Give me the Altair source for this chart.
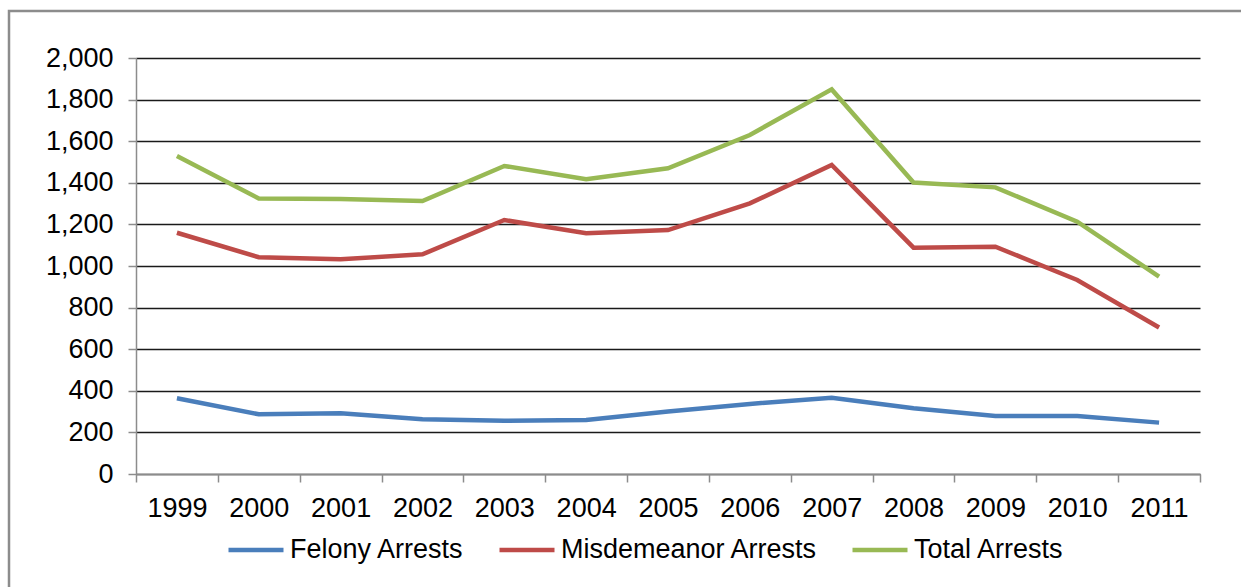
import altair as alt
import pandas as pd

years = ["1999", "2000", "2001", "2002", "2003", "2004", "2005", "2006", "2007", "2008", "2009", "2010", "2011"]
felony = [364, 287, 292, 263, 256, 260, 300, 337, 367, 316, 279, 279, 247]
misdemeanor = [1160, 1042, 1032, 1056, 1221, 1157, 1173, 1301, 1486, 1088, 1093, 933, 704]
total = [1529, 1325, 1322, 1312, 1481, 1417, 1470, 1630, 1849, 1401, 1378, 1213, 949]
series_names = ["Felony Arrests", "Misdemeanor Arrests", "Total Arrests"]
series_colors = ["#4A7EBB", "#BE4B48", "#98B954"]
y_ticks = [0, 200, 400, 600, 800, 1000, 1200, 1400, 1600, 1800, 2000]

rows = []
for name, vals in zip(series_names, [felony, misdemeanor, total]):
    for yr, v in zip(years, vals):
        rows.append({"Year": yr, "Series": name, "Value": v})
df = pd.DataFrame(rows)

FONT = "Liberation Sans"

lines = alt.Chart(df).mark_line(strokeWidth=4.5, strokeJoin="miter").encode(
    x=alt.X("Year:N", sort=years, bandPosition=0.5,
            scale=alt.Scale(type="band", domain=years, paddingInner=0, paddingOuter=0),
            axis=alt.Axis(title=None, labelAngle=0, tickBand="extent", grid=False,
                          labelFont=FONT, labelFontSize=27, labelColor="#000000",
                          labelPadding=13, tickSize=8, tickColor="#8C8C8C", tickWidth=1.5,
                          domainColor="#8C8C8C", domainWidth=1.5)),
    y=alt.Y("Value:Q", scale=alt.Scale(domain=[0, 2000], nice=False),
            axis=alt.Axis(title=None, values=y_ticks, format=",d",
                          labelFont=FONT, labelFontSize=27, labelColor="#000000",
                          labelPadding=15, tickSize=8, tickColor="#8C8C8C", tickWidth=1.5,
                          domainColor="#8C8C8C", domainWidth=1.5,
                          grid=True, gridColor="#1A1A1A", gridWidth=1.3)),
    color=alt.Color("Series:N", sort=series_names,
                    scale=alt.Scale(domain=series_names, range=series_colors),
                    legend=alt.Legend(title=None, orient="none", direction="horizontal",
                                      legendX=90, legendY=462, padding=0,
                                      symbolType="stroke", symbolSize=3025,
                                      symbolStrokeWidth=4.5, labelFont=FONT,
                                      labelFontSize=27, labelColor="#000000",
                                      labelLimit=0, labelOffset=4, columnPadding=25)),
)

border = alt.Chart(pd.DataFrame({"a": [0]})).mark_rect(
    fill=None, stroke="#8C8C8C", strokeWidth=2.5
).encode(
    x=alt.value(-127), x2=alt.value(1600), y=alt.value(-47), y2=alt.value(900)
)

chart = alt.layer(border, lines).properties(
    width=1064, height=416,
    padding={"left": 136, "top": 58, "right": 41, "bottom": 113},
    autosize=alt.AutoSizeParams(type="none"),
    background="white",
).configure_view(strokeWidth=0)

chart.save("out.html", embed_options={"renderer": "svg", "actions": False})
